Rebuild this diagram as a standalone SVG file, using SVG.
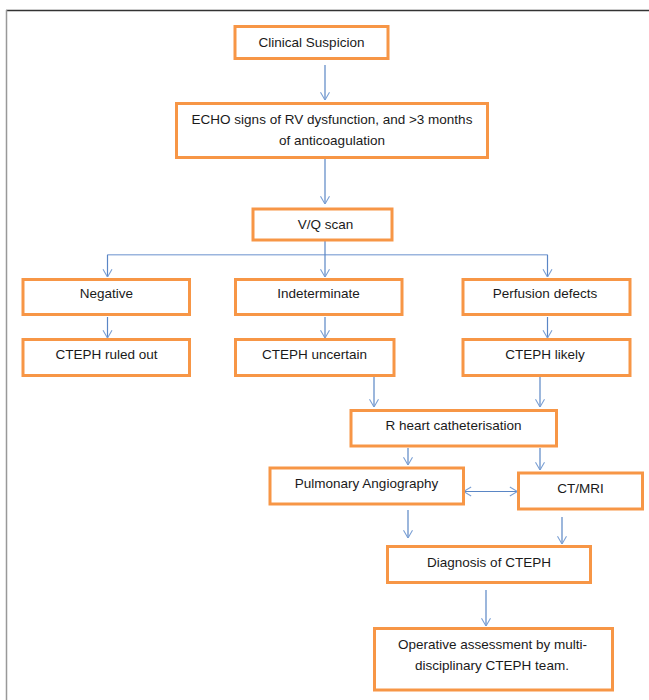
<svg xmlns="http://www.w3.org/2000/svg" width="649" height="700" viewBox="0 0 649 700">
<defs>
<style>
.box{fill:#fff;stroke:#F79646;stroke-width:3}
.t{font-family:"Liberation Sans",Arial,sans-serif;font-size:13.5px;fill:#1a1a1a;text-anchor:middle}
.c{fill:none;stroke:#5A86C5;stroke-width:1.2}
.h{fill:none;stroke:#9BB5DE;stroke-width:1.5}
</style>
<marker id="ah" viewBox="0 0 10 12" refX="9.5" refY="6" markerWidth="9" markerHeight="11" markerUnits="userSpaceOnUse" orient="auto-start-reverse">
<path d="M1,1 L9.5,6 L1,11" fill="none" stroke="#7A9FD4" stroke-width="1.2"/>
</marker>
</defs>
<rect width="649" height="700" fill="#fff"/>
<line x1="6" y1="10.5" x2="649" y2="10.5" stroke="#333" stroke-width="1.5"/>
<line x1="6.5" y1="10" x2="6.5" y2="700" stroke="#999" stroke-width="1.5"/>
<g id="connectors">
<line class="c" x1="325" y1="65" x2="325" y2="100" marker-end="url(#ah)"/>
<line class="c" x1="325" y1="159" x2="325" y2="204" marker-end="url(#ah)"/>
<line class="h" x1="107.5" y1="254.7" x2="547.5" y2="254.7"/>
<line class="c" x1="325" y1="241" x2="325" y2="277" marker-end="url(#ah)"/>
<line class="c" x1="107.5" y1="254.7" x2="107.5" y2="277" marker-end="url(#ah)"/>
<line class="c" x1="547.5" y1="254.7" x2="547.5" y2="277" marker-end="url(#ah)"/>
<line class="c" x1="107.5" y1="317" x2="107.5" y2="338" marker-end="url(#ah)"/>
<line class="c" x1="325" y1="317" x2="325" y2="338" marker-end="url(#ah)"/>
<line class="c" x1="547.5" y1="317" x2="547.5" y2="338" marker-end="url(#ah)"/>
<line class="c" x1="374" y1="377" x2="374" y2="407" marker-end="url(#ah)"/>
<line class="c" x1="540" y1="377" x2="540" y2="407" marker-end="url(#ah)"/>
<line class="c" x1="408" y1="448" x2="408" y2="465" marker-end="url(#ah)"/>
<line class="c" x1="540" y1="448" x2="540" y2="470" marker-end="url(#ah)"/>
<line class="c" x1="463.5" y1="491.5" x2="517.5" y2="491.5" marker-start="url(#ah)" marker-end="url(#ah)"/>
<line class="c" x1="408" y1="510" x2="408" y2="538" marker-end="url(#ah)"/>
<line class="c" x1="562" y1="517" x2="562" y2="544" marker-end="url(#ah)"/>
<line class="c" x1="486" y1="590" x2="486" y2="626" marker-end="url(#ah)"/>
</g>
<g id="n1"><rect class="box" x="235" y="26.5" width="153" height="32"/><text class="t" x="311.5" y="46.5">Clinical Suspicion</text></g>
<g id="n2"><rect class="box" x="176.5" y="103.5" width="311" height="54"/><text class="t" x="332" y="124">ECHO signs of RV dysfunction, and &gt;3 months</text><text class="t" x="332" y="145">of anticoagulation</text></g>
<g id="n3"><rect class="box" x="253" y="209" width="139" height="31"/><text class="t" x="325.5" y="229">V/Q scan</text></g>
<g id="n4"><rect class="box" x="23" y="279.5" width="166.5" height="35"/><text class="t" x="106.5" y="298">Negative</text></g>
<g id="n5"><rect class="box" x="235.5" y="279.5" width="166.5" height="35"/><text class="t" x="318.5" y="298">Indeterminate</text></g>
<g id="n6"><rect class="box" x="463" y="279.5" width="167" height="35"/><text class="t" x="545" y="298">Perfusion defects</text></g>
<g id="n7"><rect class="box" x="23" y="339.5" width="166.5" height="36"/><text class="t" x="106.5" y="358.5">CTEPH ruled out</text></g>
<g id="n8"><rect class="box" x="235.5" y="339.5" width="158.5" height="36"/><text class="t" x="314.5" y="358.5">CTEPH uncertain</text></g>
<g id="n9"><rect class="box" x="463" y="339.5" width="167" height="36"/><text class="t" x="545" y="358.5">CTEPH likely</text></g>
<g id="n10"><rect class="box" x="351" y="410.5" width="205.5" height="35.5"/><text class="t" x="453.5" y="429.5">R heart catheterisation</text></g>
<g id="n11"><rect class="box" x="270" y="468" width="193.5" height="36"/><text class="t" x="366.5" y="487.5">Pulmonary Angiography</text></g>
<g id="n12"><rect class="box" x="518.5" y="473" width="124" height="36"/><text class="t" x="580.5" y="492.5">CT/MRI</text></g>
<g id="n13"><rect class="box" x="387.5" y="546.5" width="203" height="36"/><text class="t" x="489" y="566.5">Diagnosis of CTEPH</text></g>
<g id="n14"><rect class="box" x="374.5" y="628.5" width="238" height="61.5"/><text class="t" x="492.5" y="648.5">Operative assessment by multi-</text><text class="t" x="492" y="670">disciplinary CTEPH team.</text></g>
</svg>
